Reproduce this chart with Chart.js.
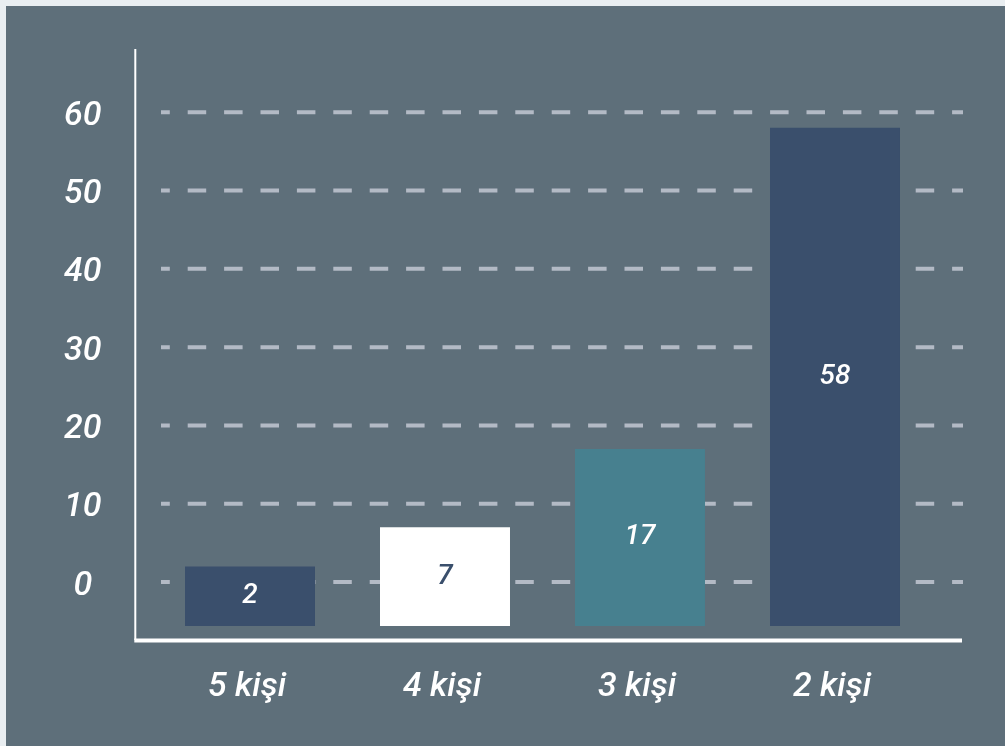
<!DOCTYPE html>
<html><head><meta charset="utf-8">
<script src="https://cdn.jsdelivr.net/npm/chart.js@4/dist/chart.umd.min.js"></script>
<style>
html,body{margin:0;padding:0;background:#e9eef1;width:1005px;height:746px;overflow:hidden}
#panel{position:absolute;left:6px;top:6px;width:999px;height:740px;background:#5e6f7a}
#c{position:absolute;left:0;top:0;width:1005px;height:746px}
</style></head><body><div id="panel"></div><canvas id="c" width="1005" height="746"></canvas>
<script>
const categories = ['5 kişi', '4 kişi', '3 kişi', '2 kişi'];
const values = [2, 7, 17, 58];
const barColors = ['#3a4f6c', '#ffffff', '#47808f', '#3a4f6c'];
const valueLabelColors = ['#ffffff', '#3a4f6c', '#ffffff', '#ffffff'];
const yTickValues = [0, 10, 20, 30, 40, 50, 60];
const yMin = -7.4, yMax = 68.2, barBase = -5.6;

const gridColor = '#b3bac5';
const fontFamily = 'Roboto, "Open Sans", sans-serif';

const framePlugin = {
  id: 'frame',
  beforeDatasetsDraw(chart) {
    const ctx = chart.ctx, y = chart.scales.y, a = chart.chartArea;
    ctx.save();
    ctx.strokeStyle = gridColor;
    ctx.lineWidth = 4;
    ctx.setLineDash([18.5, 17.9]);
    ctx.lineDashOffset = 9.7;
    yTickValues.forEach(v => {
      const py = y.getPixelForValue(v);
      ctx.beginPath();
      ctx.moveTo(a.left + 8.5, py);
      ctx.lineTo(a.right + 30.5, py);
      ctx.stroke();
    });
    ctx.setLineDash([]);
    ctx.strokeStyle = '#ffffff';
    ctx.lineWidth = 2;
    ctx.beginPath();
    ctx.moveTo(a.left - 17.2, a.top + 1);
    ctx.lineTo(a.left - 17.2, a.bottom);
    ctx.stroke();
    ctx.lineWidth = 4;
    ctx.beginPath();
    ctx.moveTo(a.left - 18.2, a.bottom + 0.5);
    ctx.lineTo(a.right + 29.5, a.bottom + 0.5);
    ctx.stroke();
    ctx.restore();
  },
  afterDatasetsDraw(chart) {
    const ctx = chart.ctx;
    const meta = chart.getDatasetMeta(0);
    ctx.save();
    ctx.font = 'italic 500 28px ' + fontFamily;
    ctx.textAlign = 'center';
    ctx.textBaseline = 'middle';
    meta.data.forEach((bar, i) => {
      ctx.fillStyle = valueLabelColors[i];
      ctx.fillText(String(values[i]), bar.x, (bar.y + bar.base) / 2);
    });
    ctx.restore();
  }
};

const tickFont = { family: fontFamily, size: 34, style: 'italic', weight: '500' };

new Chart(document.getElementById('c'), {
  type: 'bar',
  data: {
    labels: categories,
    datasets: [{
      data: values,
      backgroundColor: barColors,
      borderWidth: 0,
      base: barBase,
      barPercentage: 0.8,
      categoryPercentage: 0.8333
    }]
  },
  options: {
    responsive: false,
    animation: false,
    devicePixelRatio: 1,
    layout: { padding: { left: 0, right: 72.5, top: 48, bottom: 0 } },
    plugins: { legend: { display: false }, tooltip: { enabled: false } },
    scales: {
      x: {
        grid: { display: false, drawTicks: false },
        border: { display: false },
        ticks: { color: '#ffffff', font: tickFont, padding: 27, maxRotation: 0, labelOffset: -3 },
        afterFit(s) { s.height = 106; s.paddingLeft = 0; s.paddingRight = 0; }
      },
      y: {
        min: yMin, max: yMax,
        grid: { display: false, drawTicks: false },
        border: { display: false },
        afterBuildTicks(s) { s.ticks = yTickValues.map(v => ({ value: v })); },
        ticks: { color: '#ffffff', font: tickFont, crossAlign: 'center', padding: 51, labelOffset: 4 },
        afterFit(s) { s.width = 152.5; s.paddingTop = 0; s.paddingBottom = 0; }
      }
    }
  },
  plugins: [framePlugin]
});
</script>
</body></html>
